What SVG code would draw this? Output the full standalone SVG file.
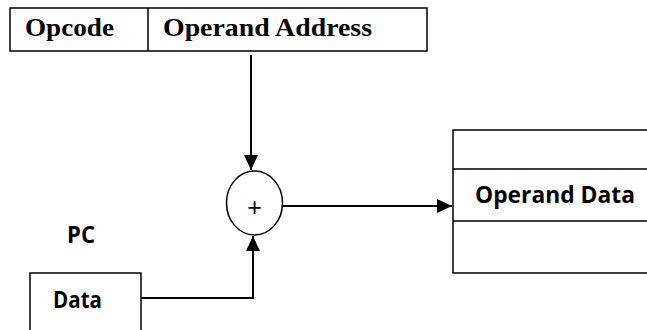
<svg xmlns="http://www.w3.org/2000/svg" width="647" height="330" viewBox="0 0 647 330">
  <defs>
    <marker id="arrow" markerWidth="15" markerHeight="14" refX="15" refY="7" orient="auto" markerUnits="userSpaceOnUse" viewBox="0 0 15 14">
      <path d="M0,0 L15,7 L0,14 z" fill="#000"/>
    </marker>
    <style>
      .box { fill: #fff; stroke: #000; stroke-width: 1.5; }
      .line { fill: none; stroke: #000; stroke-width: 2; }
      .serif { font-family: "Liberation Serif", "Times New Roman", serif; font-weight: bold; font-size: 26px; fill: #000; }
      .sans { font-family: "Open Sans", "Noto Sans", sans-serif; font-weight: bold; font-size: 23px; fill: #000; }
    </style>
  </defs>

  <!-- instruction format -->
  <g id="instruction">
    <rect class="box" x="10" y="8" width="417" height="43"/>
    <line class="box" x1="148" y1="8" x2="148" y2="51"/>
    <text class="serif" x="25" y="36" textLength="89" lengthAdjust="spacingAndGlyphs">Opcode</text>
    <text class="serif" x="163" y="36" textLength="209" lengthAdjust="spacingAndGlyphs">Operand Address</text>
  </g>

  <!-- adder -->
  <g id="adder">
    <ellipse class="box" cx="254.5" cy="203" rx="28" ry="32"/>
    <text x="254.5" y="216" text-anchor="middle" font-family="Liberation Sans, Arial, sans-serif" font-size="25" fill="#000">+</text>
  </g>

  <!-- memory -->
  <g id="memory">
    <rect class="box" x="453" y="130" width="200" height="143"/>
    <line class="box" x1="453" y1="169" x2="647" y2="169"/>
    <line class="box" x1="453" y1="221" x2="647" y2="221"/>
    <text class="sans" x="475" y="203" textLength="160" lengthAdjust="spacingAndGlyphs">Operand Data</text>
  </g>

  <!-- PC register -->
  <g id="pc">
    <text class="sans" x="67" y="243" font-size="22" textLength="28" lengthAdjust="spacingAndGlyphs">PC</text>
    <rect class="box" x="30" y="273" width="111" height="65"/>
    <text class="sans" x="53" y="308" font-size="21" textLength="49" lengthAdjust="spacingAndGlyphs">Data</text>
  </g>

  <g id="connectors">
    <line class="line" x1="251" y1="55" x2="251" y2="170" marker-end="url(#arrow)"/>
    <line class="line" x1="283" y1="206" x2="452" y2="206" marker-end="url(#arrow)"/>
    <polyline class="line" points="141,298 253,298 253,236" marker-end="url(#arrow)"/>
  </g>
</svg>
